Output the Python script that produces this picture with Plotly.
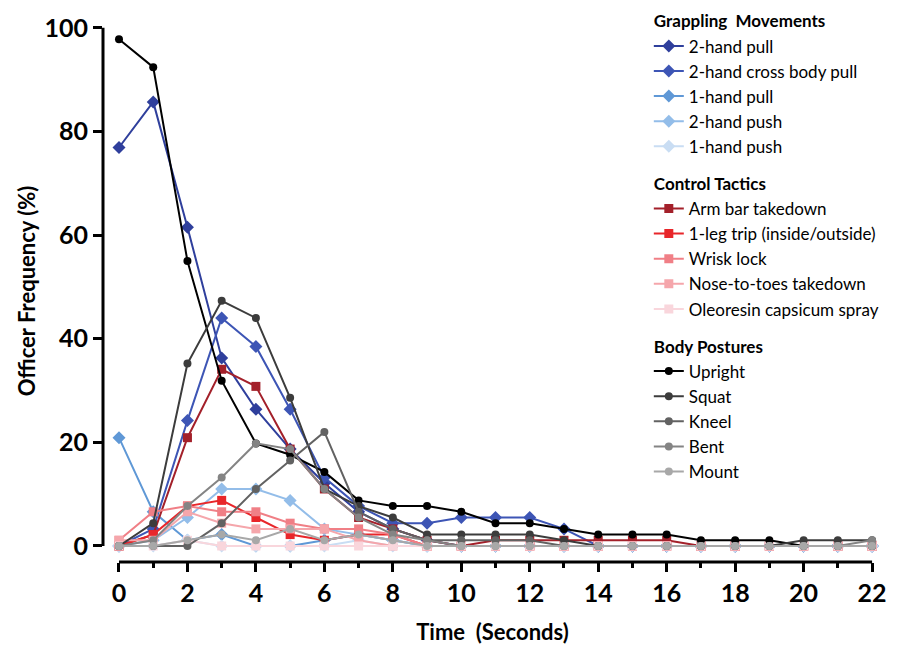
import plotly.graph_objects as go

time_s = list(range(23))

# Grappling movements
two_hand_pull       = [76.9, 85.7, 61.5, 36.3, 26.4, 18.7, 12.1, 6.6, 3.3, 1.1, 0, 0, 0, 0, 0, 0, 0, 0, 0, 0, 0, 0, 0]
two_hand_cross_pull = [0, 3.3, 24.2, 44.0, 38.5, 26.4, 13.2, 7.7, 4.4, 4.4, 5.5, 5.5, 5.5, 3.3, 0, 0, 0, 0, 0, 0, 0, 0, 0]
one_hand_pull       = [20.9, 6.6, 1.1, 2.2, 0, 0, 1.1, 2.2, 1.1, 0, 0, 0, 0, 0, 0, 0, 0, 0, 0, 0, 0, 0, 0]
two_hand_push       = [0, 1.1, 5.5, 11.0, 11.0, 8.8, 3.3, 2.2, 1.1, 0, 0, 0, 0, 0, 0, 0, 0, 0, 0, 0, 0, 0, 0]
one_hand_push       = [0, 0, 1.1, 0, 0, 0, 0, 1.1, 0, 0, 0, 0, 0, 0, 0, 0, 0, 0, 0, 0, 0, 0, 0]

# Control tactics
arm_bar        = [0, 2.2, 20.9, 34.1, 30.8, 18.7, 11.0, 5.5, 3.3, 1.1, 0, 1.1, 1.1, 1.1, 1.1, 1.1, 1.1, 0, 0, 0, 0, 0, 0]
one_leg_trip   = [0, 2.2, 7.7, 8.8, 5.5, 2.2, 1.1, 2.2, 2.2, 0, 0, 0, 0, 0, 0, 0, 0, 0, 0, 0, 0, 0, 0]
wrist_lock     = [1.1, 6.6, 7.7, 6.6, 6.6, 4.4, 3.3, 3.3, 2.2, 0, 0, 0, 0, 0, 0, 0, 0, 0, 0, 0, 0, 0, 0]
nose_to_toes   = [1.1, 1.1, 6.6, 4.4, 3.3, 3.3, 3.3, 1.1, 0, 0, 0, 0, 0, 0, 0, 0, 0, 0, 0, 0, 0, 0, 0]
oc_spray       = [0, 0, 1.1, 0, 0, 0, 0, 0, 0, 0, 0, 0, 0, 0, 0, 0, 0, 0, 0, 0, 0, 0, 0]

# Body postures
upright = [97.8, 92.4, 55.0, 31.9, 19.8, 17.6, 14.3, 8.8, 7.7, 7.7, 6.6, 4.4, 4.4, 3.3, 2.2, 2.2, 2.2, 1.1, 1.1, 1.1, 0, 0, 0]
squat   = [0, 4.4, 35.2, 47.3, 44.0, 28.6, 11.0, 7.7, 5.5, 2.2, 2.2, 2.2, 2.2, 1.1, 0, 0, 0, 0, 0, 0, 1.1, 1.1, 1.1]
kneel   = [0, 0, 0, 4.4, 11.0, 16.5, 22.0, 6.6, 3.3, 1.1, 1.1, 1.1, 1.1, 0, 0, 0, 0, 0, 0, 0, 0, 0, 0]
bent    = [0, 1.1, 7.7, 13.2, 19.8, 18.7, 11.0, 5.5, 2.2, 1.1, 0, 0, 0, 0, 0, 0, 0, 0, 0, 0, 0, 0, 1.1]
mount   = [0, 0, 1.1, 2.2, 1.1, 3.3, 1.1, 2.2, 1.1, 0, 0, 0, 0, 0, 0, 0, 0, 0, 0, 0, 0, 0, 0]

groups = [
    ("g1", "Grappling  Movements", "diamond", 10, [
        ("2-hand pull", two_hand_pull, "#2f3f9c"),
        ("2-hand cross body pull", two_hand_cross_pull, "#3d55b5"),
        ("1-hand pull", one_hand_pull, "#5f98d6"),
        ("2-hand push", two_hand_push, "#93bde9"),
        ("1-hand push", one_hand_push, "#c9ddf3"),
    ]),
    ("g2", "Control Tactics", "square", 9, [
        ("Arm bar takedown", arm_bar, "#a3202a"),
        ("1-leg trip (inside/outside)", one_leg_trip, "#e8262a"),
        ("Wrisk lock", wrist_lock, "#f07f86"),
        ("Nose-to-toes takedown", nose_to_toes, "#f5a6ab"),
        ("Oleoresin capsicum spray", oc_spray, "#f9d6dc"),
    ]),
    ("g3", "Body Postures", "circle", 8, [
        ("Upright", upright, "#000000"),
        ("Squat", squat, "#3c3c3c"),
        ("Kneel", kneel, "#626262"),
        ("Bent", bent, "#848484"),
        ("Mount", mount, "#a8a8a8"),
    ]),
]

fig = go.Figure()
for gid, gtitle, sym, msize, series in groups:
    for name, vals, col in series:
        fig.add_trace(go.Scatter(
            x=time_s, y=vals, name=name, mode="lines+markers",
            line=dict(color=col, width=2),
            marker=dict(symbol=sym, size=msize, color=col),
            legendgroup=gid,
            legendgrouptitle=dict(text=gtitle, font=dict(family="Lato", size=17, color="black", weight="bold")),
        ))

axis_font = dict(family="Lato", size=25, color="black", weight="bold")
fig.update_layout(
    width=919, height=649,
    margin=dict(l=103, r=37, t=20, b=87, autoexpand=False),
    plot_bgcolor="white", paper_bgcolor="white",
    showlegend=True,
    legend=dict(
        xref="container", yref="container",
        x=0.706, y=0.995, xanchor="left", yanchor="top",
        font=dict(family="Lato", size=17, color="black"),
        bgcolor="rgba(255,255,255,0)",
        tracegroupgap=12, itemwidth=30, maxheight=640,
    ),
    xaxis=dict(
        range=[-0.467, 22.29], showgrid=False, zeroline=False, showline=False,
        tickmode="linear", tick0=0, dtick=2,
        ticks="outside", ticklen=9, tickwidth=3, tickcolor="black",
        minor=dict(dtick=1, tick0=0, ticks="outside", ticklen=5, tickwidth=3, tickcolor="black"),
        tickfont=axis_font,
        title=dict(text="Time  (Seconds)", font=dict(family="Lato", size=22, color="black", weight="bold"), standoff=18),
    ),
    yaxis=dict(
        range=[-3.09, 101.5], showgrid=False, zeroline=False, showline=False,
        tickmode="array", tickvals=[0, 20, 40, 60, 80, 100],
        ticks="outside", ticklen=9, tickwidth=3, tickcolor="black",
        tickfont=axis_font,
        title=dict(text="Officer Frequency (%)", font=dict(family="Lato", size=22, color="black", weight="bold"), standoff=2),
    ),
    shapes=[
        dict(type="line", xref="paper", yref="y", x0=0, x1=0, y0=0, y1=100,
             line=dict(color="black", width=3)),
        dict(type="line", xref="x", yref="paper", x0=0, x1=22, y0=0, y1=0,
             line=dict(color="black", width=3)),
    ],
)

fig.write_html("out.html")
